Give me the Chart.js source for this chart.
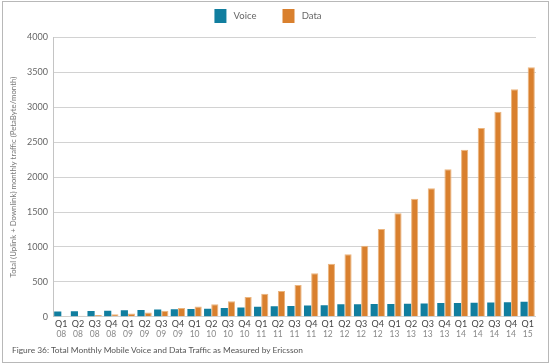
<!DOCTYPE html>
<html>
<head>
<meta charset="utf-8">
<script src="https://cdn.jsdelivr.net/npm/chart.js@4"></script>
<style>
  html, body { margin: 0; padding: 0; background: #fff; }
  #wrap { position: relative; width: 550px; height: 364px; }
  #frame { position: absolute; left: 2px; top: 1px; width: 547px; height: 362px; box-sizing: border-box; border: 1px solid #b8b8b8; pointer-events: none; }
  #caption { position: absolute; left: 12px; top: 345px; font: 8.4px Lato, sans-serif; color: #555; white-space: nowrap; }
  canvas { position: absolute; left: 0; top: 0; }
</style>
</head>
<body>
<div id="wrap">
  <canvas id="c" width="550" height="364"></canvas>
  <div id="frame"></div>
  <div id="caption">Figure 36: Total Monthly Mobile Voice and Data Traffic as Measured by Ericsson</div>
</div>
<script>
const quarterLabels = ['Q1','Q2','Q3','Q4','Q1','Q2','Q3','Q4','Q1','Q2','Q3','Q4','Q1','Q2','Q3','Q4','Q1','Q2','Q3','Q4','Q1','Q2','Q3','Q4','Q1','Q2','Q3','Q4','Q1'];
const yearLabels = ['08','08','08','08','09','09','09','09','10','10','10','10','11','11','11','11','12','12','12','12','13','13','13','13','14','14','14','14','15'];
const voiceValues = [75, 78, 82, 87, 92, 96, 104, 107, 110, 115, 125, 133, 143, 149, 153, 162, 165, 178, 180, 182, 182, 186, 190, 195, 198, 200, 203, 206, 215];
const dataValues = [10, 15, 25, 35, 45, 60, 85, 125, 145, 178, 220, 282, 330, 368, 454, 621, 760, 894, 1017, 1256, 1481, 1691, 1840, 2112, 2393, 2703, 2937, 3258, 3573];
const yTicks = [0, 500, 1000, 1500, 2000, 2500, 3000, 3500, 4000];
const seriesNames = ['Voice', 'Data'];

const FONT = 'Lato, sans-serif';

const legendHeight = {
  id: 'legendHeight',
  beforeInit(chart) {
    const origFit = chart.legend.fit;
    chart.legend.fit = function () {
      origFit.bind(chart.legend)();
      this.height = 37.5;
    };
  }
};

new Chart(document.getElementById('c'), {
  type: 'bar',
  data: {
    labels: quarterLabels,
    datasets: [
      { label: seriesNames[0], data: voiceValues, backgroundColor: '#117e9f', borderWidth: 0 },
      { label: seriesNames[1], data: dataValues, backgroundColor: '#d9802e', borderColor: '#ebb57f', borderWidth: 1 }
    ]
  },
  options: {
    responsive: false,
    animation: false,
    devicePixelRatio: 1,
    datasets: { bar: { categoryPercentage: 0.86, barPercentage: 1.0 } },
    layout: { padding: { left: 0, right: 14, top: 0, bottom: 18 } },
    plugins: {
      tooltip: { enabled: false },
      title: { display: false },
      legend: {
        display: true,
        position: 'top',
        labels: {
          boxWidth: 12,
          boxHeight: 14,
          padding: 9,
          color: '#666',
          font: { family: FONT, size: 9.5 },
          generateLabels(chart) {
            return chart.data.datasets.map((ds, i) => ({
              text: i === 0 ? ' ' + ds.label + '       ' : ' ' + ds.label,
              fillStyle: ds.backgroundColor,
              strokeStyle: ds.backgroundColor,
              lineWidth: 0,
              hidden: false,
              datasetIndex: i,
              fontColor: '#666'
            }));
          }
        }
      }
    },
    scales: {
      x: {
        position: 'bottom',
        weight: 0,
        grid: { display: false, drawTicks: false },
        border: { display: false },
        ticks: { color: '#444', font: { family: FONT, size: 9 }, padding: 1.5, maxRotation: 0, autoSkip: false },
        afterFit(s) { s.height = 11; }
      },
      x2: {
        type: 'category',
        position: 'bottom',
        weight: 1,
        labels: yearLabels,
        grid: { display: false, drawTicks: false },
        border: { display: false },
        ticks: { color: '#888', font: { family: FONT, size: 8.5 }, padding: 1, maxRotation: 0, autoSkip: false },
        afterFit(s) { s.height = 18.3; }
      },
      y: {
        min: 0,
        max: 4000,
        afterBuildTicks(s) { s.ticks = yTicks.map(v => ({ value: v })); },
        grid: { color: '#d2d2d2', lineWidth: 1, drawTicks: false },
        border: { display: true, color: '#c4c4c4', width: 1 },
        ticks: { color: '#666', font: { family: FONT, size: 9 }, padding: 5, callback: v => String(v) },
        title: {
          display: true,
          text: 'Total (Uplink + Downlink) monthly traffic (PetaByte/month)',
          color: '#777',
          font: { family: FONT, size: 7.8 },
          padding: { top: 8.5, bottom: 0 }
        },
        afterFit(s) { s.width = 53; }
      }
    }
  },
  plugins: [legendHeight]
});
</script>
</body>
</html>
